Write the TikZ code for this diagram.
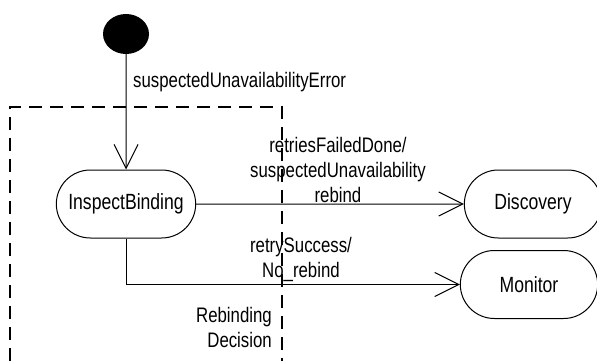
\documentclass[tikz,border=0pt]{standalone}
\usepackage{fontspec}
\setmainfont{Liberation Sans}[FakeStretch=0.8]
\usetikzlibrary{arrows.meta,shapes.misc,shapes.geometric}

\tikzset{
  statebox/.style={rounded rectangle, draw, line width=1pt, minimum height=68pt,
    font=\fontsize{22}{26}\selectfont},
  trans/.style={line width=1pt, -{Straight Barb[length=24pt,width=24pt,line width=1pt]}},
  lbl/.style={font=\fontsize{21}{25}\selectfont, align=center, inner sep=0pt},
  region/.style={line width=1.8pt, dash pattern=on 13pt off 8pt}
}

\begin{document}
\begin{tikzpicture}[x=1pt,y=-1pt]
  \useasboundingbox (0,0) rectangle (597,361);
  \clip (0,0) rectangle (597,361);
  % states
  \node[ellipse, fill, minimum width=46pt, minimum height=40pt, inner sep=0pt] (init) at (126,34) {};
  \node[statebox, minimum width=146pt] (inspect) at (126,204) {InspectBinding};
  \node[statebox, minimum width=144pt] (discovery) at (533,204) {Discovery};
  \node[statebox, minimum width=144pt] (monitor) at (529,284.5) {Monitor};
  % transitions
  \draw[trans] (init) -- (inspect);
  \draw[trans] (inspect) -- (discovery);
  \draw[trans] (inspect.south) |- (monitor.west);
  % labels
  \node[lbl, anchor=base west] (errlbl) at (133,88) {suspectedUnavailabilityError};
  \node[lbl, anchor=base] (faillbl) at (338,202) {retriesFailedDone/\\suspectedUnavailability\\rebind};
  \node[lbl, anchor=base] (succlbl) at (301,277) {retrySuccess/\\No\_rebind};
  \node[lbl, align=right, anchor=base east] (decisionlbl) at (272,347) {Rebinding\\Decision};
  % composite region
  \draw[region] (10,361) -- (10,107) -- (282,107) -- (282,361);
\end{tikzpicture}
\end{document}
